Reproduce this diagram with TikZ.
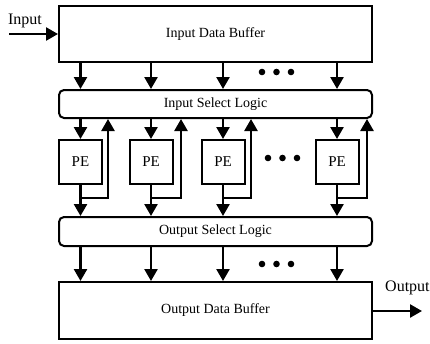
\documentclass[tikz,border=0pt]{standalone}
\usepackage{fontspec}
\setmainfont{Liberation Serif}
\usetikzlibrary{arrows.meta,calc}
\begin{document}
\begin{tikzpicture}[x=1pt,y=-1pt,
  box/.style={draw,line width=2pt,minimum width=313pt,inner sep=0pt,font=\fontsize{14}{16}\selectfont},
  sel/.style={box,rounded corners=5pt},
  pebox/.style={draw,line width=2pt,minimum width=43pt,minimum height=44pt,inner sep=0pt,font=\fontsize{15}{17}\selectfont},
  arr/.style={line width=2.5pt,-{Triangle[length=12pt,width=13pt]}},
  lbl/.style={inner sep=0pt,font=\fontsize{16}{18}\selectfont},
  dot/.style={fill=black}]
\useasboundingbox (0,0) rectangle (430,343);
\node[box,minimum height=56pt] (idb) at (215.5,34) {Input Data Buffer};
\node[sel,minimum height=28pt] (isl) at (215.5,104) {Input Select Logic};
\node[pebox] (pe1) at (80.5,162) {PE};
\node[pebox] (pe2) at (151,162) {PE};
\node[pebox] (pe3) at (223,162) {PE};
\node[pebox] (pe4) at (337,162) {PE};
\node[sel,minimum height=29pt] (osl) at (215.5,231.5) {Output Select Logic};
\node[box,minimum height=57pt] (odb) at (215.5,310.5) {Output Data Buffer};
\node[lbl] (inl) at (25,21) {Input};
\node[lbl,anchor=west] (outl) at (385,288) {Output};
\coordinate (inS) at (9,34);
\coordinate (outE) at (422,311);
\draw[arr] (inS) -- (inS -| idb.west);
\draw[arr] (odb.east |- outE) -- (outE);
\foreach \i in {1,2,3,4}{
  \draw[arr] (pe\i.north |- idb.south) -- (pe\i.north |- isl.north);
  \draw[arr] (pe\i.north |- isl.south) -- (pe\i.north);
  \draw[arr] (pe\i.south) -- (pe\i.south |- osl.north);
  \draw[arr] (pe\i.south |- osl.south) -- (pe\i.south |- odb.north);
}
\foreach \i/\u in {1/108,2/181,3/251,4/367}{
  \coordinate (b\i) at ($(pe\i.south)+(0,13)$);
  \coordinate (u\i) at (\u,0);
  \draw[arr] (b\i) -| (u\i |- isl.south);
}
\foreach \x in {262,276.5,291}{
  \fill[dot] (\x,72) circle (3.3);
  \fill[dot] (\x,264) circle (3.3);
}
\foreach \x in {268,282.5,297}{
  \fill[dot] (\x,158) circle (3.3);
}
\end{tikzpicture}
\end{document}
